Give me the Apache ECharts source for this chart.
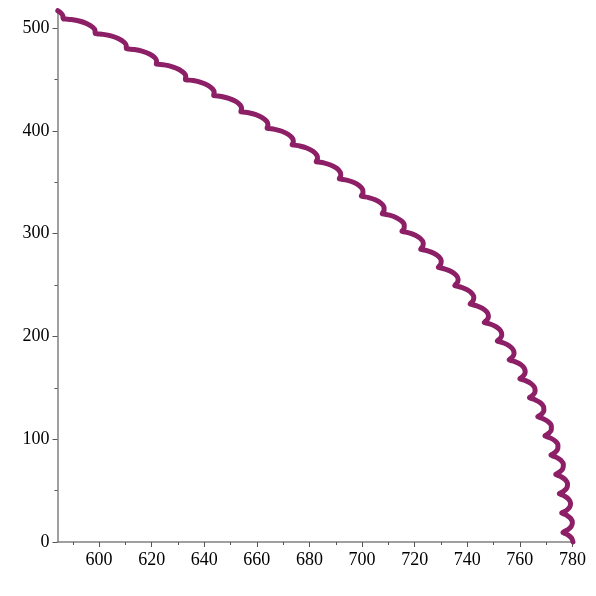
<!DOCTYPE html>
<html>
<head>
<meta charset="utf-8">
<script src="https://cdn.jsdelivr.net/npm/echarts@6/dist/echarts.min.js"></script>
<style>
html,body{margin:0;padding:0;background:#fff;}
#chart{width:596px;height:596px;}
</style>
</head>
<body>
<div id="chart"></div>
<script>
// ---- values ----
// polar angle (degrees) of each inward kink of the wavy curve, top-left to bottom-right
const cuspAngles = [40.95, 39.56, 38.17, 36.79, 35.40, 34.01, 32.62, 31.23, 29.85, 28.46,
                    27.07, 25.68, 24.29, 22.91, 21.52, 20.13, 18.74, 17.35, 15.97, 14.58,
                    13.19, 11.80, 10.41, 9.03, 7.64, 6.25, 4.86, 3.47, 2.09, 0.69];
// shape of one wave: angle offset after the kink (deg) and radius
const waveAngleOffsets = [0, 0.056, 0.181, 0.403, 0.694, 0.985, 1.207, 1.332];
const waveRadii        = [776.4, 776.96, 778.3, 779.64, 780.2, 779.64, 778.3, 776.96];
// start of the curve (radius, angle deg) before first kink
const leadInRadii  = [780.04, 779.64, 778.3, 776.96];
const leadInAngles = [41.49, 41.35, 41.13, 41.01];
// tick values
const xMajorTicks = [600, 620, 640, 660, 680, 700, 720, 740, 760, 780];
const xMinorTicks = [590, 610, 630, 650, 670, 690, 710, 730, 750, 770];
const yMajorTicks = [0, 100, 200, 300, 400, 500];
const yMinorTicks = [50, 150, 250, 350, 450];

// ---- build the (x, y) table from the polar readings ----
const polar = [];
leadInRadii.forEach((r, i) => polar.push([r, leadInAngles[i]]));
cuspAngles.forEach((c, k) => {
  const last = k === cuspAngles.length - 1;
  const n = last ? 5 : waveAngleOffsets.length;
  for (let j = 0; j < n; j++) polar.push([waveRadii[j], Math.max(0, c - waveAngleOffsets[j])]);
});
const curve = polar.map(([r, a]) => {
  const t = a * Math.PI / 180;
  return [r * Math.cos(t), r * Math.sin(t)];
});

const axisColor = '#808080';
const labelFont = {fontFamily: 'Liberation Serif', fontSize: 18, color: '#000'};

const chart = echarts.init(document.getElementById('chart'), null, {renderer: 'canvas'});
chart.setOption({
  animation: false,
  backgroundColor: '#fff',
  grid: {left: 57.5, right: 23, top: 10.5, bottom: 54, containLabel: false},
  xAxis: [{
    type: 'value', min: 584.2, max: 780.2, position: 'bottom',
    axisLine: {show: true, onZero: false, lineStyle: {color: axisColor, width: 1.5}},
    axisTick: {show: true, length: 5, customValues: xMajorTicks, lineStyle: {color: '#555', width: 1}},
    axisLabel: Object.assign({show: true, margin: 9, customValues: xMajorTicks}, labelFont),
    splitLine: {show: false}
  }, {
    type: 'value', min: 584.2, max: 780.2, position: 'bottom', offset: 0,
    axisLine: {show: false},
    axisTick: {show: true, length: 3, customValues: xMinorTicks, lineStyle: {color: '#555', width: 1}},
    axisLabel: {show: false},
    splitLine: {show: false}
  }],
  yAxis: [{
    type: 'value', min: 0, max: 517, position: 'left',
    axisLine: {show: true, onZero: false, lineStyle: {color: axisColor, width: 1.5}},
    axisTick: {show: true, length: 5, customValues: yMajorTicks, lineStyle: {color: '#555', width: 1}},
    axisLabel: Object.assign({show: true, margin: 8, customValues: yMajorTicks}, labelFont),
    splitLine: {show: false}
  }, {
    type: 'value', min: 0, max: 517, position: 'left', offset: 0,
    axisLine: {show: false},
    axisTick: {show: true, length: 3, customValues: yMinorTicks, lineStyle: {color: '#555', width: 1}},
    axisLabel: {show: false},
    splitLine: {show: false}
  }],
  series: [{
    type: 'line',
    xAxisIndex: 0, yAxisIndex: 0,
    data: curve,
    showSymbol: false,
    smooth: 0.3,
    clip: false,
    lineStyle: {color: '#8C1F66', width: 5, cap: 'round', join: 'round'}
  }]
});
</script>
</body>
</html>
